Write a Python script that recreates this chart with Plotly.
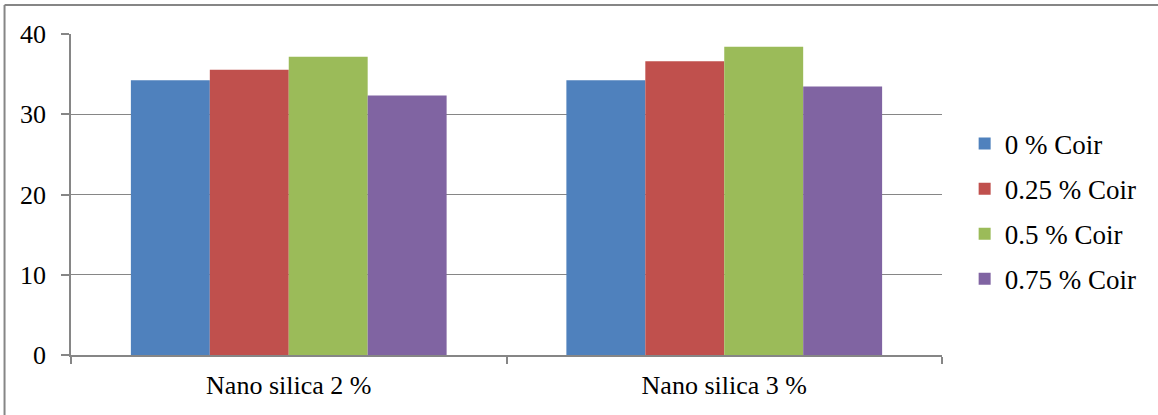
import plotly.graph_objects as go

categories = ["Nano silica 2 %", "Nano silica 3 %"]
series_names = ["0 % Coir", "0.25 % Coir", "0.5 % Coir", "0.75 % Coir"]
values_0 = [34.25, 34.25]
values_025 = [35.55, 36.6]
values_05 = [37.15, 38.4]
values_075 = [32.35, 33.45]
colors = ["#4F81BD", "#C0504D", "#9BBB59", "#8064A2"]
y_ticks = [0, 10, 20, 30, 40]

FONT = "Liberation Serif, Times New Roman, serif"
GRAY = "#868686"

fig = go.Figure()
for i, (name, vals) in enumerate(zip(series_names, [values_0, values_025, values_05, values_075])):
    fig.add_trace(go.Bar(
        x=categories, y=vals, name=name,
        marker=dict(color=colors[i], line=dict(width=0)),
        legendgroup=f"g{i}",
    ))

fig.update_layout(
    width=1158, height=415,
    margin=dict(l=71, r=216, t=34, b=60),
    paper_bgcolor="white", plot_bgcolor="white",
    barmode="group", bargap=0.275, bargroupgap=0,
    font=dict(family=FONT, size=26, color="black"),
    showlegend=True,
    legend=dict(
        x=1.026, xanchor="left", y=0.447, yanchor="middle",
        font=dict(family=FONT, size=27, color="black"),
        tracegroupgap=7, itemwidth=30,
        bgcolor="rgba(0,0,0,0)",
    ),
    xaxis=dict(
        showline=True, linecolor=GRAY, linewidth=1.5,
        ticks="outside", tickson="boundaries", ticklen=7, tickcolor=GRAY, tickwidth=1.5,
        showgrid=False, range=[-0.5, 1.5],
        ticklabelstandoff=6,
        tickfont=dict(family=FONT, size=26, color="black"),
    ),
    yaxis=dict(
        range=[0, 40], tickvals=y_ticks,
        showline=True, linecolor=GRAY, linewidth=1.5,
        ticks="outside", ticklen=8, tickcolor=GRAY, tickwidth=1.5,
        showgrid=True, gridcolor=GRAY, gridwidth=1.2,
        zeroline=False,
        ticklabelstandoff=10,
        tickfont=dict(family=FONT, size=26, color="black"),
    ),
    shapes=[
        dict(type="line", xref="paper", yref="paper", x0=-0.0763, x1=1.3, y0=1.0903, y1=1.0903,
             line=dict(color=GRAY, width=2)),
        dict(type="line", xref="paper", yref="paper", x0=-0.0763, x1=-0.0763, y0=1.0903, y1=-0.3,
             line=dict(color=GRAY, width=2)),
    ],
)

fig.write_html("out.html")
